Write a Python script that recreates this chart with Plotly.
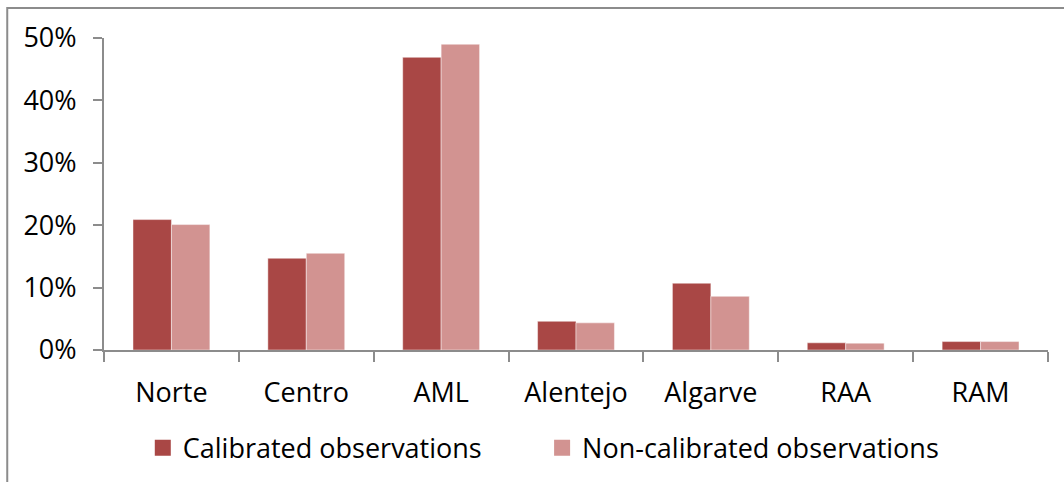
import plotly.graph_objects as go

categories = ["Norte", "Centro", "AML", "Alentejo", "Algarve", "RAA", "RAM"]
calibrated = [0.209, 0.147, 0.469, 0.046, 0.107, 0.0115, 0.0135]
non_calibrated = [0.201, 0.155, 0.490, 0.0435, 0.086, 0.011, 0.0135]
series_names = ["Calibrated observations", "Non-calibrated observations"]
y_ticks = [0, 0.1, 0.2, 0.3, 0.4, 0.5]

colors = ["#A94745", "#D29391"]
FONT = "Open Sans"
FS = 27

fig = go.Figure()
for name, vals, col in zip(series_names, [calibrated, non_calibrated], colors):
    fig.add_trace(go.Bar(
        x=categories, y=vals, name=name, showlegend=False,
        marker=dict(color=col, line=dict(color="rgba(255,255,255,0.45)", width=1)),
    ))
# legend entries with larger square swatches, one legend each for exact placement
for name, col, lg in zip(series_names, colors, ["legend", "legend2"]):
    fig.add_trace(go.Scatter(
        x=[None], y=[None], mode="markers", name=name, legend=lg,
        marker=dict(symbol="square", size=21, color=col),
    ))

legend_common = dict(
    orientation="h", xref="container", yref="container",
    xanchor="left", y=0.07, yanchor="middle",
    font=dict(family=FONT, size=FS, color="black"),
    bgcolor="rgba(0,0,0,0)",
)

fig.update_layout(
    width=1064, height=482,
    margin=dict(l=104, r=16, t=38, b=132, autoexpand=False),
    paper_bgcolor="white", plot_bgcolor="white",
    font=dict(family=FONT, size=FS, color="black"),
    barmode="group", bargap=0.43, bargroupgap=0,
    showlegend=True,
    legend=dict(x=0.1342, **legend_common),
    legend2=dict(x=0.5095, **legend_common),
    xaxis=dict(
        type="category", categoryorder="array", categoryarray=categories,
        showline=True, linecolor="#8C8C8C", linewidth=2,
        ticks="outside", tickson="boundaries", ticklen=10, tickwidth=2, tickcolor="#8C8C8C",
        showgrid=False, zeroline=False, ticklabelstandoff=18, automargin=False,
    ),
    yaxis=dict(
        range=[0, 0.5], tickvals=y_ticks, tickformat=".0%",
        showline=True, linecolor="#8C8C8C", linewidth=2,
        ticks="outside", ticklen=9, tickwidth=2, tickcolor="#8C8C8C",
        showgrid=False, zeroline=False, ticklabelstandoff=11, automargin=False,
    ),
    shapes=[dict(
        type="rect", xref="paper", yref="paper",
        x0=-0.1025, x1=1.2, y0=-0.6, y1=1.096,
        line=dict(color="#8C8C8C", width=2), fillcolor="rgba(0,0,0,0)", layer="below",
    )],
)

fig.write_html("out.html", config={"displayModeBar": False},
               post_script="document.body.style.margin='0';")
